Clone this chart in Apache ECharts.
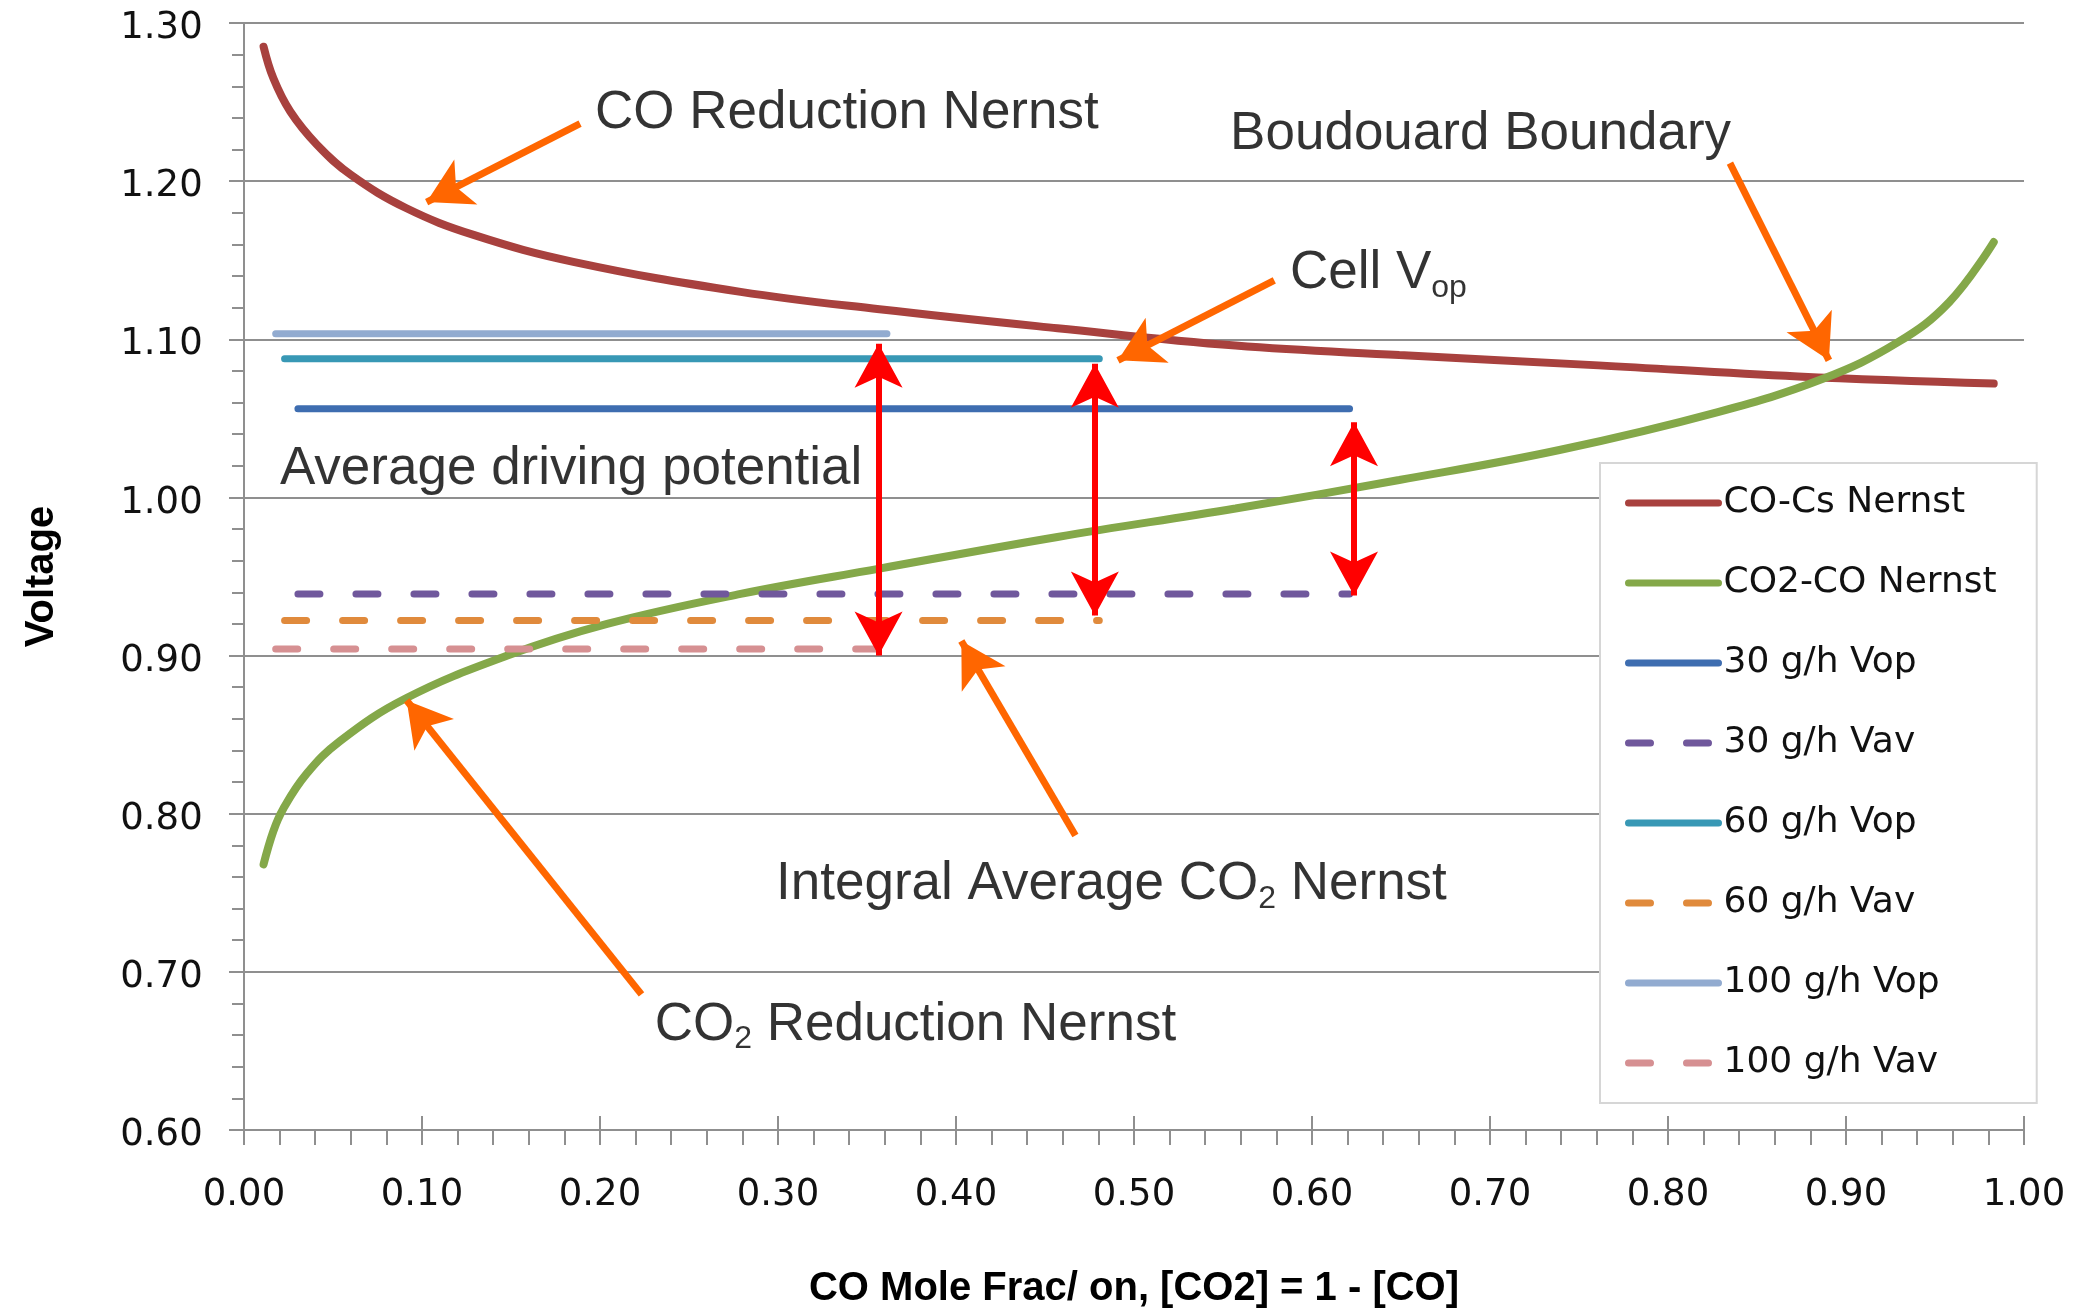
<!DOCTYPE html>
<html><head><meta charset="utf-8">
<script src="https://cdn.jsdelivr.net/npm/echarts@6/dist/echarts.min.js"></script>
<style>html,body{margin:0;padding:0;background:#fff}#c{width:2074px;height:1309px}</style>
</head><body><div id="c"></div>
<script>
// ---- data ----
const coCsX = [0.011, 0.0165, 0.026, 0.041, 0.060, 0.091, 0.129, 0.185, 0.279, 0.357, 0.457, 0.557, 0.649, 0.761, 0.873, 0.983];
const coCsV = [1.285, 1.265, 1.244, 1.223, 1.204, 1.183, 1.166, 1.149, 1.130, 1.119, 1.107, 1.096, 1.090, 1.0835, 1.0765, 1.072];
const co2CoX = [0.011, 0.0165, 0.022, 0.035, 0.054, 0.091, 0.148, 0.204, 0.279, 0.357, 0.457, 0.557, 0.649, 0.739, 0.828, 0.887, 0.929, 0.958, 0.983];
const co2CoV = [0.768, 0.789, 0.803, 0.825, 0.846, 0.873, 0.900, 0.920, 0.939, 0.955, 0.975, 0.993, 1.011, 1.030, 1.054, 1.075, 1.098, 1.1235, 1.1615];
const flowLabels = ['30 g/h', '60 g/h', '100 g/h'];
const vopLevels = [1.056, 1.0877, 1.1035];
const vavLevels = [0.939, 0.9222, 0.9042];
const rangeStart = [0.0303, 0.0228, 0.0178];
const rangeEnd = [0.6211, 0.4805, 0.3612];
const yTicks = [0.6, 0.7, 0.8, 0.9, 1.0, 1.1, 1.2, 1.3];
const xTicks = [0, 0.1, 0.2, 0.3, 0.4, 0.5, 0.6, 0.7, 0.8, 0.9, 1.0];

// annotations (data coordinates)
const noteLabels = ['{t|CO Reduction Nernst}', '{t|Boudouard Boundary}', '{t|Cell V}{s|op}',
  '{t|Average driving potential}', '{t|Integral Average CO}{s|2}{t| Nernst}', '{t|CO}{s|2}{t| Reduction Nernst}'];
const noteX = [0.1972, 0.554, 0.5876, 0.0202, 0.2989, 0.2307];
const noteY = [1.2431, 1.2296, 1.1414, 1.0179, 0.7551, 0.6662];
const calloutFromX = [0.1888, 0.5788, 0.8348, 0.4671, 0.2233];
const calloutFromY = [1.2363, 1.1372, 1.2114, 0.7862, 0.6858];
const calloutToX = [0.1026, 0.4910, 0.8904, 0.4030, 0.0914];
const calloutToY = [1.1868, 1.0867, 1.0867, 0.9092, 0.8716];
const drivingX = [0.3565, 0.478, 0.6236];
const drivingTop = [1.0972, 1.0845, 1.0476];
const drivingBottom = [0.900, 0.9254, 0.938];

// ---- styles ----
const vopColors = ['#3e6db0', '#3898b5', '#92abd0'];
const vavColors = ['#70589c', '#e08a3c', '#d69092'];
const axisGray = '#8f8f8f';
const txt = '#111';

const pairs = (xs, ys) => xs.map((x, i) => [x, ys[i]]);

const series = [
  { name: 'CO-Cs Nernst', type: 'line', data: pairs(coCsX, coCsV), smooth: 0.4, symbol: 'none',
    lineStyle: { color: '#a8413e', width: 8, cap: 'round' }, itemStyle: { color: '#a8413e' } },
  { name: 'CO2-CO Nernst', type: 'line', data: pairs(co2CoX, co2CoV), smooth: 0.4, symbol: 'none',
    lineStyle: { color: '#84a849', width: 8, cap: 'round' }, itemStyle: { color: '#84a849' } }
];
const legendNames = ['CO-Cs Nernst', 'CO2-CO Nernst'];
flowLabels.forEach((f, i) => {
  legendNames.push(f + ' Vop', f + ' Vav');
  series.push({ name: f + ' Vop', type: 'line', symbol: 'none',
    data: [[rangeStart[i], vopLevels[i]], [rangeEnd[i], vopLevels[i]]],
    lineStyle: { color: vopColors[i], width: 7, cap: 'round' }, itemStyle: { color: vopColors[i] } });
  series.push({ name: f + ' Vav', type: 'line', symbol: 'none',
    data: [[rangeStart[i], vavLevels[i]], [rangeEnd[i], vavLevels[i]]],
    lineStyle: { color: vavColors[i], width: 7, cap: 'round', type: [22, 36] }, itemStyle: { color: vavColors[i] } });
});

const richStyles = {
  t: { fontFamily: '"Liberation Sans", Arial, sans-serif', fontSize: 53, color: '#000', lineHeight: 60 },
  s: { fontFamily: '"Liberation Sans", Arial, sans-serif', fontSize: 32, color: '#000', lineHeight: 32, verticalAlign: 'bottom' }
};

series.push({
  name: 'notes', type: 'scatter', symbolSize: 0, silent: true, z: 10,
  data: noteX.map((x, i) => ({ value: [x, noteY[i]], label: { formatter: noteLabels[i] } })),
  label: { show: true, position: 'right', distance: 0, rich: richStyles },
  markLine: {
    silent: true, animation: false,
    symbol: ['none', 'arrow'], symbolSize: [38, 44],
    lineStyle: { color: '#ff6600', width: 7, type: 'solid' },
    label: { show: false },
    data: calloutFromX.map((x, i) => [{ coord: [x, calloutFromY[i]] }, { coord: [calloutToX[i], calloutToY[i]] }])
  }
});
series.push({
  name: 'driving', type: 'scatter', symbolSize: 0, silent: true, z: 11,
  data: drivingX.map((x, i) => [x, drivingTop[i]]),
  markLine: {
    silent: true, animation: false,
    symbol: ['arrow', 'arrow'], symbolSize: [36, 44],
    lineStyle: { color: '#ff0000', width: 6, type: 'solid' },
    label: { show: false },
    data: drivingX.map((x, i) => [{ coord: [x, drivingTop[i]] }, { coord: [x, drivingBottom[i]] }])
  }
});

const fam = '"DejaVu Sans", Verdana, sans-serif';
const labelFont = { fontFamily: fam, fontSize: 37, color: txt };
const nameFont = { fontFamily: '"Liberation Sans", Arial, sans-serif', fontWeight: 'bold', fontSize: 40, color: '#000' };

const option = {
  animation: false,
  backgroundColor: '#fff',
  grid: { left: 244, right: 50, top: 23, bottom: 179, containLabel: false, outerBoundsMode: 'none' },
  legend: {
    data: legendNames, orient: 'vertical', left: 1600, top: 463,
    padding: [20, 40, 20, 25], itemGap: 40, itemWidth: 90, itemHeight: 40,
    backgroundColor: '#fff', borderColor: '#d6d6d6', borderWidth: 2,
    itemStyle: { opacity: 0 },
    lineStyle: { width: 7 },
    textStyle: { fontFamily: fam, fontSize: 36, color: txt, lineHeight: 40 },
    selectedMode: false
  },
  xAxis: [{
    type: 'value', min: xTicks[0], max: xTicks[xTicks.length - 1], interval: 0.1,
    name: 'CO Mole Frac/ on, [CO2] = 1 - [CO]', nameLocation: 'middle', nameGap: 139, nameTextStyle: nameFont,
    axisLine: { show: true, onZero: false, lineStyle: { color: axisGray, width: 2 } },
    axisTick: { show: true, length: 15, lineStyle: { color: axisGray, width: 2 } },
    minorTick: { show: true, splitNumber: 5, length: 15, lineStyle: { color: axisGray, width: 2 } },
    axisLabel: Object.assign({ margin: 47, formatter: v => v.toFixed(2) }, labelFont),
    splitLine: { show: false }
  }, {
    type: 'value', min: xTicks[0], max: xTicks[xTicks.length - 1], interval: 0.1, position: 'bottom',
    axisLine: { show: false }, axisLabel: { show: false }, splitLine: { show: false },
    axisTick: { show: true, inside: true, length: 14, lineStyle: { color: axisGray, width: 2 } }
  }],
  yAxis: [{
    type: 'value', min: yTicks[0], max: yTicks[yTicks.length - 1], interval: 0.1,
    name: 'Voltage', nameLocation: 'middle', nameGap: 182, nameRotate: 90, nameTextStyle: nameFont,
    axisLine: { show: true, onZero: false, lineStyle: { color: axisGray, width: 2 } },
    axisTick: { show: true, length: 15, lineStyle: { color: axisGray, width: 2 } },
    minorTick: { show: true, splitNumber: 5, length: 12, lineStyle: { color: axisGray, width: 2 } },
    axisLabel: {
      margin: 41,
      formatter: v => '{v|' + v.toFixed(2) + '}{g| }',
      rich: {
        v: { fontFamily: fam, fontSize: 37, color: txt, lineHeight: 38, verticalAlign: 'bottom' },
        g: { fontFamily: fam, fontSize: 1, lineHeight: 48 }
      }
    },
    splitLine: { show: true, lineStyle: { color: axisGray, width: 2 } }
  }, {
    type: 'value', min: yTicks[0], max: yTicks[yTicks.length - 1], interval: 0.1, position: 'left',
    axisLine: { show: false }, axisLabel: { show: false }, splitLine: { show: false },
    axisTick: { show: true, inside: true, length: 13, lineStyle: { color: axisGray, width: 2 } }
  }],
  series: series
};

const chart = echarts.init(document.getElementById('c'), null, { renderer: 'canvas' });
chart.setOption(option);
</script>
</body></html>
